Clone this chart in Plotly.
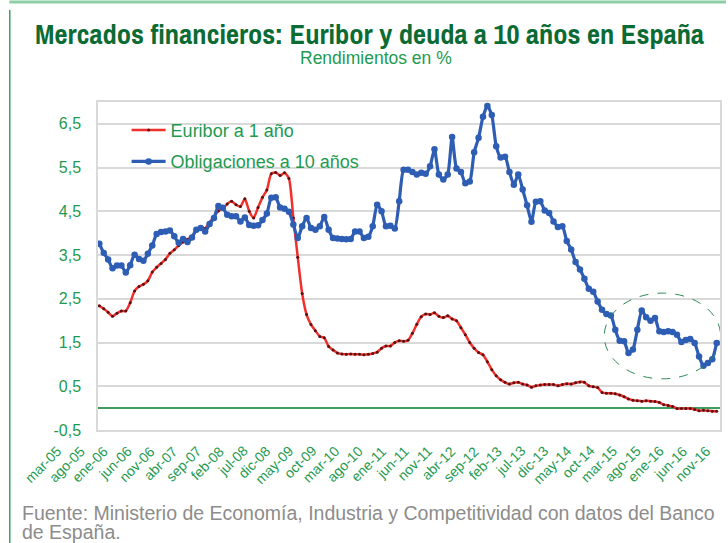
import plotly.graph_objects as go

# ---- data ----
month_abbr = ["ene", "feb", "mar", "abr", "may", "jun", "jul", "ago", "sep", "oct", "nov", "dic"]
start_year, start_month = 2005, 3   # mar-05
n_months = 141                      # mar-05 .. nov-16
months = []
for k in range(n_months):
    m = (start_month - 1 + k) % 12
    y = start_year + (start_month - 1 + k) // 12
    months.append(f"{month_abbr[m]}-{str(y)[2:]}")

tick_labels = months[::5]

y_tick_vals = [-0.5, 0.5, 1.5, 2.5, 3.5, 4.5, 5.5, 6.5]
y_tick_text = ["-0,5", "0,5", "1,5", "2,5", "3,5", "4,5", "5,5", "6,5"]

euribor_1y = [
    2.34, 2.27, 2.19, 2.10, 2.17, 2.22, 2.22, 2.41, 2.68, 2.78,
    2.83, 2.91, 3.11, 3.22, 3.31, 3.40, 3.54, 3.62, 3.72, 3.80, 3.86, 3.92,
    4.06, 4.09, 4.11, 4.25, 4.37, 4.51, 4.56, 4.67, 4.73, 4.65, 4.61, 4.79,
    4.50, 4.35, 4.59, 4.82, 4.99, 5.36, 5.39, 5.32, 5.38, 5.25, 4.35, 3.45,
    2.62, 2.14, 1.91, 1.77, 1.64, 1.61, 1.41, 1.33, 1.26, 1.24, 1.23, 1.24,
    1.23, 1.23, 1.22, 1.23, 1.25, 1.28, 1.37, 1.42, 1.42, 1.50, 1.54, 1.53,
    1.55, 1.71, 1.92, 2.09, 2.15, 2.14, 2.18, 2.10, 2.07, 2.11, 2.04, 2.00,
    1.84, 1.68, 1.50, 1.37, 1.27, 1.22, 1.06, 0.88, 0.74, 0.65, 0.59, 0.55,
    0.58, 0.59, 0.55, 0.53, 0.48, 0.51, 0.53, 0.54, 0.54, 0.54, 0.51, 0.54,
    0.56, 0.55, 0.58, 0.60, 0.59, 0.51, 0.49, 0.47, 0.36, 0.34, 0.34, 0.33,
    0.30, 0.26, 0.21, 0.18, 0.17, 0.16, 0.17, 0.16, 0.15, 0.13, 0.08, 0.06,
    0.04, -0.01, -0.01, -0.01, -0.01, -0.03, -0.06, -0.05, -0.06, -0.07, -0.07,
]

bonos_10y = [
    3.76, 3.55, 3.40, 3.20, 3.26, 3.26, 3.10, 3.27, 3.51, 3.41,
    3.37, 3.53, 3.72, 3.98, 4.03, 4.04, 4.06, 3.93, 3.78, 3.87, 3.80, 3.90,
    4.08, 4.12, 4.04, 4.21, 4.35, 4.62, 4.58, 4.42, 4.39, 4.39, 4.27, 4.36,
    4.19, 4.17, 4.18, 4.30, 4.45, 4.81, 4.82, 4.59, 4.56, 4.49, 4.20, 3.89,
    4.16, 4.35, 4.12, 4.08, 4.16, 4.37, 4.08, 3.89, 3.88, 3.87, 3.86, 3.87,
    4.04, 4.04, 3.89, 3.92, 4.16, 4.65, 4.50, 4.16, 4.17, 4.11, 4.73, 5.45,
    5.45, 5.40, 5.34, 5.38, 5.36, 5.53, 5.92, 5.34, 5.23, 5.34, 6.20, 5.48,
    5.40, 5.14, 5.18, 5.85, 6.18, 6.66, 6.91, 6.70, 5.99, 5.73, 5.75, 5.40,
    5.11, 5.34, 5.00, 4.64, 4.26, 4.72, 4.73, 4.52, 4.46, 4.27, 4.14, 4.16,
    3.82, 3.63, 3.34, 3.17, 2.96, 2.73, 2.66, 2.44, 2.25, 2.15, 2.12, 1.79,
    1.54, 1.53, 1.26, 1.34, 1.79, 2.23, 2.08, 2.00, 2.06, 1.76, 1.74, 1.76,
    1.74, 1.68, 1.51, 1.56, 1.58, 1.49, 1.18, 0.97, 1.03, 1.12, 1.49,
]

series_names = ["Euribor a 1 año", "Obligaciones a 10 años"]

title_text = "Mercados financieros: Euribor y deuda a 10 años en España"
subtitle_text = "Rendimientos en %"
source_lines = ["Fuente: Ministerio de Economía, Industria y Competitividad con datos del Banco",
                "de España."]

# ---- layout helpers (pixel -> paper) ----
W, H = 728, 543
PL, PR, PT, PB = 98, 722, 102, 430
def px(xp):
    return (xp - PL) / (PR - PL)
def py(yp):
    return (PB - yp) / (PB - PT)

GREEN_TXT = "#1E9A50"
DARK_GREEN = "#0B6B34"
GRID = "#D9D9D9"
FONT = "Liberation Sans, Arial, sans-serif"
NARROW = "Archivo Narrow, Asap Condensed, Liberation Sans, sans-serif"

fig = go.Figure()
fig.add_trace(go.Scatter(
    x=months, y=euribor_1y, name=series_names[0], mode="lines+markers",
    line=dict(color="#F2302B", width=2.5, shape="spline", smoothing=0.6),
    marker=dict(color="#5A1010", size=3),
    legendgroup="a",
))
fig.add_trace(go.Scatter(
    x=months, y=bonos_10y, name=series_names[1], mode="lines+markers",
    line=dict(color="#2E5DB4", width=3.2, shape="spline", smoothing=0.6),
    marker=dict(color="#2E5DB4", size=6.5),
    legendgroup="b",
))

fig.update_layout(
    width=W, height=H,
    margin=dict(l=PL, r=W - PR, t=PT, b=H - PB),
    paper_bgcolor="white", plot_bgcolor="white",
    font=dict(family=FONT, color=GREEN_TXT),
    showlegend=True,
    legend=dict(
        x=0.046, y=0.97, xanchor="left", yanchor="top",
        bgcolor="rgba(0,0,0,0)", borderwidth=0,
        font=dict(size=18, color=GREEN_TXT, family=FONT),
        tracegroupgap=5, traceorder="grouped", itemwidth=34,
    ),
    xaxis=dict(
        type="category",
        range=[-0.3, n_months - 1 + 0.75],
        showticklabels=False, showgrid=False, ticks="",
        showline=True, linecolor=GRID, linewidth=1.5, mirror=True,
    ),
    yaxis=dict(
        range=[-0.5, 7.0],
        tickmode="array", tickvals=y_tick_vals, ticktext=y_tick_text,
        tickfont=dict(size=16, color=GREEN_TXT),
        showgrid=True, gridcolor=GRID, gridwidth=1.5,
        zeroline=True, zerolinecolor="#3E9E62", zerolinewidth=1.5,
        showline=True, linecolor=GRID, linewidth=1.5, mirror=True,
        ticks="", ticklabelstandoff=12,
    ),
)

# rotated x tick labels (placed like the original's category labels)
lab_first_end, lab_last_end = 68, 718
step = (lab_last_end - lab_first_end) / (len(tick_labels) - 1)
for k, lab in enumerate(tick_labels):
    fig.add_annotation(text=lab, xref="paper", yref="paper",
                       x=px(lab_first_end + k * step), y=py(440),
                       xanchor="right", yanchor="top", textangle=-45,
                       showarrow=False, font=dict(size=14, color=GREEN_TXT, family=FONT))

# title & subtitle & source
fig.add_annotation(text=f"<b>{title_text}</b>", xref="paper", yref="paper",
                   x=px(370), y=py(34), xanchor="center", yanchor="middle",
                   showarrow=False, font=dict(family=NARROW, size=28.5, color=DARK_GREEN))
fig.add_annotation(text=subtitle_text, xref="paper", yref="paper",
                   x=px(377), y=py(58), xanchor="center", yanchor="middle",
                   showarrow=False, font=dict(family=FONT, size=17.5, color=GREEN_TXT))
for j, line in enumerate(source_lines):
    fig.add_annotation(text=line, xref="paper", yref="paper",
                       x=px(20), y=py(513 + 19 * j), xanchor="left", yanchor="middle",
                       showarrow=False, font=dict(family=FONT, size=19.5, color="#8C8C8C"))

# frame lines (green)
fig.add_shape(type="line", xref="paper", yref="paper",
              x0=px(9), x1=px(728), y0=py(2), y1=py(2),
              line=dict(color="#8CCFA5", width=3))
fig.add_shape(type="line", xref="paper", yref="paper",
              x0=px(9.5), x1=px(9.5), y0=py(10), y1=py(545),
              line=dict(color="#3E9E62", width=1.5))

# highlight ellipse
fig.add_shape(type="circle", xref="x", yref="y",
              x0=114.5, x1=140.9, y0=0.67, y1=2.63,
              line=dict(color="#2E8B57", width=1, dash="dash"))

fig.write_html("out.html", config={"displayModeBar": False},
               post_script="document.body.style.margin='0px';")
